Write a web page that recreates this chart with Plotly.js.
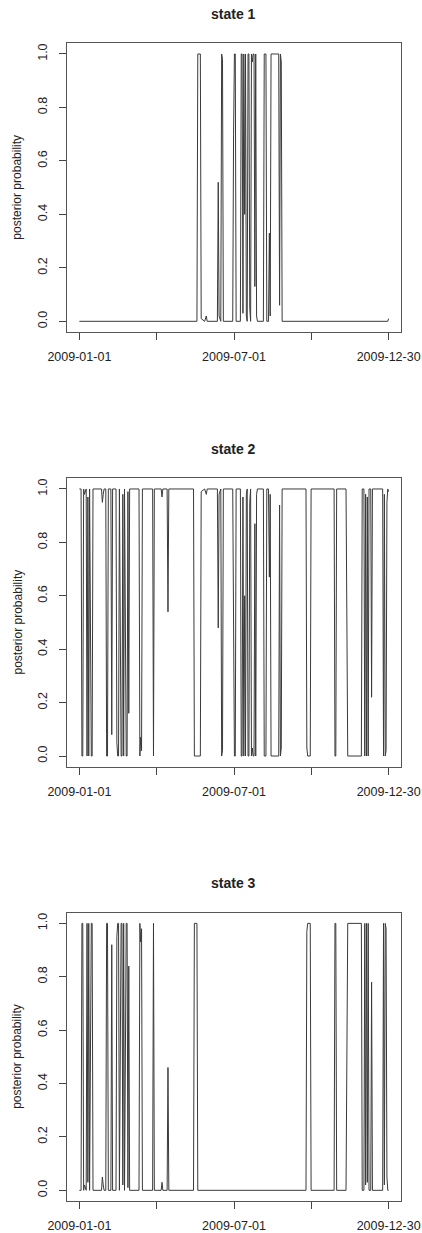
<!DOCTYPE html>
<html>
<head>
<meta charset="utf-8">
<script src="https://cdn.plot.ly/plotly-3.0.1.min.js"></script>
<style>
html,body{margin:0;padding:0;background:#fff;}
#chart{width:422px;height:1233px;}
</style>
</head>
<body>
<div id="chart"></div>
<script>
// ---- data (day offset from 2009-01-01, posterior probability) ----
const panelTitles = ['state 1', 'state 2', 'state 3'];
const yAxisLabel = 'posterior probability';
const tickDates = ['2009-01-01', '2009-04-01 18:00', '2009-07-01 12:00', '2009-09-30 06:00', '2009-12-30'];
const tickLabels = ['2009-01-01', '', '2009-07-01', '', '2009-12-30'];
const yTickVals = [0, 0.2, 0.4, 0.6, 0.8, 1.0];

const days1 = [0,138,139,142,143,147,149,150,162,163,164,166,167,168,169,180,181,182,183,184,189,190,191,192,193,194,195,196,197,198,199,200,201,202,203,204,205,206,207,208,209,216,217,219,220,222,223,224,225,234,235,236,237,238,362,363];
const prob1 = [0,0,1,1,0.01,0,0.02,0,0,0.52,0.02,0,1,0.98,0,0,0.7,1,1,0,0,1,1,0.03,1,0.4,1,0.02,0,1,1,0.05,0,1,0.97,1,1,0.13,1,0.02,0,0,1,1,0,0,0.33,0.02,1,1,0.06,1,0.97,0,0,0.01];

const days2 = [0,2,3,4,5,6,8,9,10,11,12,14,15,16,26,27,28,29,31,32,33,34,37,38,39,43,44,45,46,47,49,50,51,52,53,55,56,57,58,59,70,71,72,73,74,86,87,88,96,97,98,103,104,105,134,135,142,143,147,149,150,162,163,164,166,167,168,169,180,181,182,183,184,189,190,191,192,193,194,195,196,197,198,199,200,201,202,203,204,205,206,207,208,209,216,217,219,220,222,223,224,225,234,235,236,237,238,266,267,268,271,272,299,300,301,302,313,315,331,332,334,335,336,337,338,339,340,342,343,344,356,357,358,359,360,361,362,363];
const prob2 = [1,1,0,0,1,0.98,1,0,0.97,0,1,0,0,1,1,0.95,0.98,1,1,0,0,1,1,0.08,1,1,0.05,0,0,1,0,0,0.98,0,1,0,0,0.99,0.16,1,1,0,0.07,0.02,1,1,0,1,1,0.97,1,1,0.54,1,1,0,0,0.99,1,0.98,1,1,0.48,0.98,1,0,0.02,1,1,0.3,0,0,1,1,0,0,0.97,0,0.6,0,0.98,1,0,0,0.95,1,0,0.03,0,0,0.87,0,0.98,1,1,0,0,1,1,0.67,0.98,0,0,0.94,0,0.03,1,1,0.03,0,0,1,1,0,0,1,1,0,0,1,1,0,0.98,0,0.97,0,1,1,0.22,1,1,0,0.98,0,0.02,0.95,1,0.99];

const days3 = [0,2,3,4,5,6,8,9,10,11,12,14,15,16,26,27,28,29,31,32,33,34,37,38,39,43,44,45,46,47,49,50,51,52,53,55,56,57,58,59,70,71,72,73,74,86,87,88,96,97,98,103,104,105,134,135,138,139,266,267,268,271,272,299,300,301,302,313,315,331,332,334,335,336,337,338,339,340,342,343,344,356,357,358,359,360,361,362,363];
const prob3 = [0,0,1,1,0,0.02,0,1,0.03,1,0,1,1,0,0,0.05,0.02,0,0,1,1,0,0,0.92,0,0,0.95,1,1,0,1,1,0.02,1,0,1,1,0.01,0.84,0,0,1,0.93,0.98,0,0,1,0,0,0.03,0,0,0.46,0,0,1,1,0,0,0.97,1,1,0,0,1,1,0,0,1,1,0,0,1,0.02,1,0.03,1,0,0,0.78,0,0,1,0.02,1,0.98,0.05,0,0];

// ---- helpers ----
function dayToDate(d) {
  const t = Date.UTC(2009, 0, 1) + d * 86400000;
  return new Date(t).toISOString().slice(0, 10);
}

const W = 422, H = 1233;
const boxLeft = 67, boxRight = 401;
const boxes = [[43.3, 332], [478.3, 766.7], [912.7, 1201]];
const titleY = [14, 449, 883];

const series = [[days1, prob1], [days2, prob2], [days3, prob3]];
const traces = [];
const layout = {
  width: W, height: H,
  margin: {l: 0, r: 0, t: 0, b: 0},
  paper_bgcolor: '#fff', plot_bgcolor: '#fff',
  showlegend: false,
  font: {family: 'Liberation Sans, Arial, sans-serif', size: 12, color: '#222'},
  annotations: []
};

const xRange = ['2008-12-17 11:30', '2010-01-13 12:30'];
const fontTick = {family: 'Liberation Sans, Arial, sans-serif', size: 12.5, color: '#222'};

series.forEach((s, i) => {
  const n = i === 0 ? '' : String(i + 1);
  traces.push({
    type: 'scatter', mode: 'lines',
    x: s[0].map(dayToDate), y: s[1],
    xaxis: 'x' + n, yaxis: 'y' + n,
    line: {color: '#3a3a3a', width: 1},
    hoverinfo: 'skip'
  });
  const top = boxes[i][0], bot = boxes[i][1];
  layout['xaxis' + n] = {
    type: 'date',
    domain: [boxLeft / W, boxRight / W],
    anchor: 'y' + n,
    range: xRange,
    tickmode: 'array', tickvals: tickDates, ticktext: tickLabels,
    ticks: 'outside', ticklen: 7, tickwidth: 1, tickcolor: '#444',
    showline: true, linecolor: '#555', linewidth: 1, mirror: true,
    showgrid: false, zeroline: false,
    tickfont: fontTick, ticklabelstandoff: 6,
    fixedrange: true
  };
  layout['yaxis' + n] = {
    domain: [1 - bot / H, 1 - top / H],
    anchor: 'x' + n,
    range: [-0.04, 1.04],
    tickmode: 'array', tickvals: yTickVals, tickformat: '.1f',
    tickangle: -90,
    ticks: 'outside', ticklen: 7, tickwidth: 1, tickcolor: '#444',
    showline: true, linecolor: '#555', linewidth: 1, mirror: true,
    showgrid: false, zeroline: false,
    tickfont: fontTick, ticklabelstandoff: 7,
    fixedrange: true
  };
  layout.annotations.push({
    text: '<b>' + panelTitles[i] + '</b>',
    xref: 'paper', yref: 'paper',
    x: (boxLeft + boxRight) / 2 / W, y: 1 - titleY[i] / H,
    xanchor: 'center', yanchor: 'middle', showarrow: false,
    font: {family: 'Liberation Sans, Arial, sans-serif', size: 14, color: '#222'}
  });
  layout.annotations.push({
    text: yAxisLabel,
    xref: 'paper', yref: 'paper',
    x: 17 / W, y: 1 - (top + bot) / 2 / H,
    xanchor: 'center', yanchor: 'middle', showarrow: false, textangle: -90,
    font: {family: 'Liberation Sans, Arial, sans-serif', size: 12, color: '#222'}
  });
});

Plotly.newPlot('chart', traces, layout, {staticPlot: true, displayModeBar: false});
</script>
</body>
</html>
